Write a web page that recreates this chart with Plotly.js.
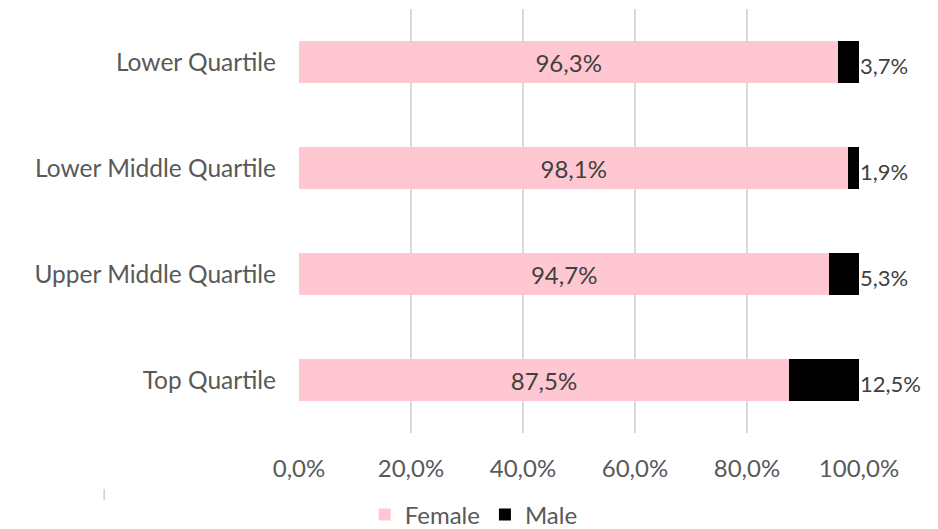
<!DOCTYPE html>
<html>
<head>
<meta charset="utf-8">
<script src="https://cdn.plot.ly/plotly-3.0.1.min.js"></script>
<style>html,body{margin:0;padding:0;background:#fff;}#chart{width:938px;height:529px;}</style>
</head>
<body>
<div id="chart"></div>
<script>
const categories = ["Lower Quartile", "Lower Middle Quartile", "Upper Middle Quartile", "Top Quartile"];
const female = [96.3, 98.1, 94.7, 87.5];
const male = [3.7, 1.9, 5.3, 12.5];
const xTicks = [0, 20, 40, 60, 80, 100];

const FONT = "Lato, 'Open Sans', sans-serif";
const GREY = "#595959";
const fmt = v => v.toFixed(1).replace(".", ",") + "%";

const traces = [
  {
    type: "bar", orientation: "h", name: "Female",
    y: categories, x: female,
    marker: {color: "#ffc7d1"},
    width: 0.4,
    text: female.map(fmt), textposition: "inside", insidetextanchor: "middle",
    textfont: {family: FONT, size: 24, color: "#404040"},
    hoverinfo: "none"
  },
  {
    type: "bar", orientation: "h", name: "Male",
    y: categories, x: male,
    marker: {color: "#000000"},
    width: 0.4,
    textposition: "none",
    hoverinfo: "none"
  }
];

const annotations = categories.map((c, i) => ({
  x: female[i] + male[i], y: c, xref: "x", yref: "y",
  text: fmt(male[i]),
  showarrow: false, xanchor: "left", yanchor: "middle", xshift: -1, yshift: -3,
  font: {family: FONT, size: 22, color: "#404040"}
}));

const layout = {
  width: 938, height: 529,
  margin: {l: 299, r: 79, t: 9, b: 96, pad: 0, autoexpand: false},
  paper_bgcolor: "#ffffff", plot_bgcolor: "#ffffff",
  barmode: "stack",
  separators: ",.",
  font: {family: FONT, color: GREY, size: 24},
  xaxis: {
    range: [0, 100], tickmode: "array", tickvals: xTicks, ticktext: xTicks.map(fmt),
    showgrid: true, gridcolor: "#d9d9d9", gridwidth: 2,
    zeroline: false, showline: false, ticks: "",
    ticklabelstandoff: 19, automargin: false,
    tickfont: {family: FONT, size: 24, color: GREY},
    fixedrange: true
  },
  yaxis: {
    type: "category", autorange: "reversed",
    showgrid: false, zeroline: false, showline: false, ticks: "",
    ticklabelstandoff: 22, automargin: false,
    tickfont: {family: FONT, size: 24.5, color: GREY},
    fixedrange: true
  },
  showlegend: true,
  legend: {
    orientation: "h", traceorder: "normal", xref: "paper", yref: "paper",
    x: 0.312, xanchor: "center", y: -0.193, yanchor: "middle",
    font: {family: FONT, size: 24, color: GREY},
    itemwidth: 30, tracegroupgap: 0
  },
  annotations: annotations,
  shapes: [{
    type: "line", xref: "paper", yref: "paper",
    x0: -0.348, x1: -0.348, y0: -0.132, y1: -0.158,
    line: {color: "#d0d0d0", width: 1.5}
  }]
};

Plotly.newPlot("chart", traces, layout, {displayModeBar: false, staticPlot: true});
</script>
</body>
</html>
